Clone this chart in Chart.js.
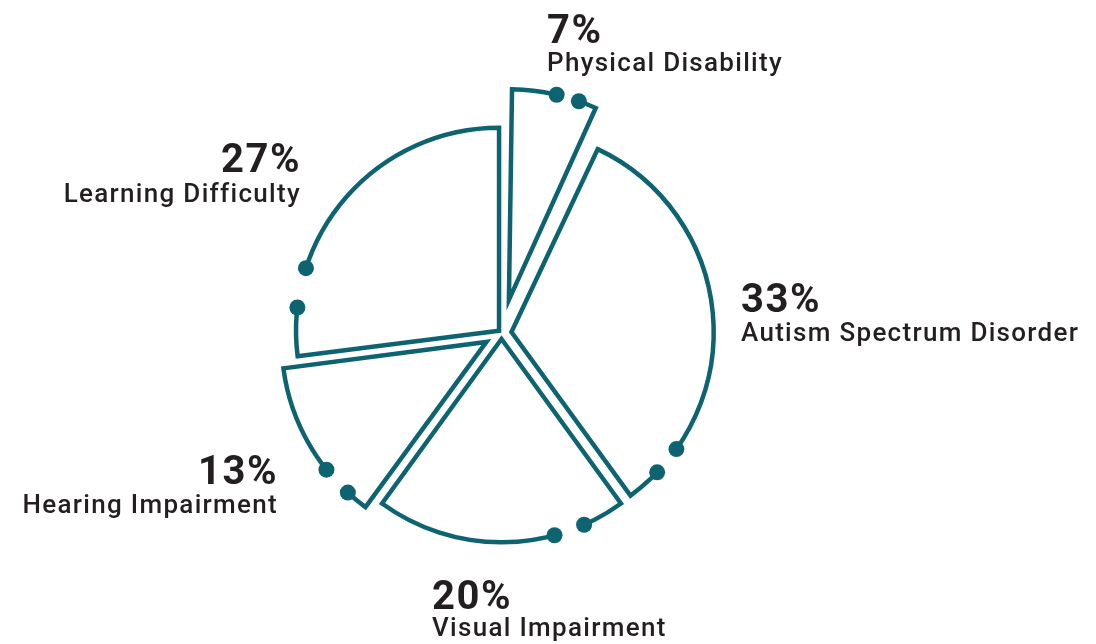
<!DOCTYPE html>
<html>
<head>
<meta charset="utf-8">
<title>Disability types</title>
<script src="https://cdn.jsdelivr.net/npm/chart.js@4"></script>
<style>
  html, body { margin: 0; padding: 0; background: #fff; }
  #wrap { width: 1096px; height: 644px; }
</style>
</head>
<body>
<div id="wrap"><canvas id="pie_chart" width="1096" height="644"></canvas></div>
<script>
// data, clockwise from 12 o'clock
const categories = ['Physical Disability', 'Autism Spectrum Disorder', 'Visual Impairment', 'Hearing Impairment', 'Learning Difficulty'];
const shares = [7, 33, 20, 13, 27];

// look
const teal = '#0d6470';
const text_color = '#231f20';
const slice_offsets = [136, 40, 24, 70, 13];   // chart.js offset (px * 4)
const radius_fix = [-12, -2, 0, -3, 0];
const gap_fracs = [[0.52, 0.77], [0.843, 0.915], [0.167, 0.29], [0.141, 0.329], [0.142, 0.259]];
const label_spots = [
  { x: 547, align: 'left',  pct_y: 43,  name_y: 71 },
  { x: 741, align: 'left',  pct_y: 312, name_y: 341 },
  { x: 432, align: 'left',  pct_y: 609, name_y: 636 },
  { x: 278, align: 'right', pct_y: 484, name_y: 513 },
  { x: 301, align: 'right', pct_y: 172, name_y: 202 },
];

const arc_geom = (arc) => {
  const t = (arc.options.offset || 0) / 4;
  const mid = (arc.startAngle + arc.endAngle) / 2;
  const circ = arc.endAngle - arc.startAngle;
  const r = arc.outerRadius + t * (1 - Math.sin(Math.min(Math.PI, circ)));
  return { x: arc.x + Math.cos(mid) * t, y: arc.y + Math.sin(mid) * t, r };
};

const fix_radius = {
  id: 'fix_radius',
  afterDatasetUpdate(chart, args) {
    args.meta.data.forEach((arc, i) => { arc.outerRadius += radius_fix[i]; });
  }
};

const gaps_and_dots = {
  id: 'gaps_and_dots',
  afterDatasetsDraw(chart) {
    const ctx = chart.ctx;
    chart.getDatasetMeta(0).data.forEach((arc, i) => {
      const g = arc_geom(arc);
      const circ = arc.endAngle - arc.startAngle;
      const a1 = arc.startAngle + gap_fracs[i][0] * circ;
      const a2 = arc.startAngle + gap_fracs[i][1] * circ;
      ctx.save();
      ctx.strokeStyle = '#fff';
      ctx.lineWidth = 9;
      ctx.beginPath();
      ctx.arc(g.x, g.y, g.r, a1, a2);
      ctx.stroke();
      ctx.fillStyle = teal;
      [a1, a2].forEach(a => {
        ctx.beginPath();
        ctx.arc(g.x + Math.cos(a) * g.r, g.y + Math.sin(a) * g.r, 8, 0, Math.PI * 2);
        ctx.fill();
      });
      ctx.restore();
    });
  }
};

const labels_plugin = {
  id: 'labels_plugin',
  afterDraw(chart) {
    const ctx = chart.ctx;
    ctx.save();
    ctx.fillStyle = text_color;
    ctx.textBaseline = 'alphabetic';
    categories.forEach((name, i) => {
      const s = label_spots[i];
      ctx.textAlign = s.align;
      ctx.letterSpacing = '1.5px';
      ctx.font = 'bold 40px Roboto';
      ctx.fillText(shares[i] + '%', s.x, s.pct_y);
      ctx.letterSpacing = '1.3px';
      ctx.font = '500 26px Roboto';
      ctx.fillText(name, s.x, s.name_y);
    });
    ctx.restore();
  }
};

new Chart('pie_chart', {
  type: 'pie',
  data: {
    labels: categories,
    datasets: [{
      data: shares,
      backgroundColor: 'rgba(0,0,0,0)',
      borderColor: teal,
      borderWidth: 4.5,
      borderJoinStyle: 'miter',
      offset: slice_offsets,
      radius: 203,
    }]
  },
  options: {
    responsive: false,
    animation: false,
    events: [],
    layout: { padding: { left: 0, right: 93, top: 22, bottom: 0 } },
    plugins: {
      legend: { display: false },
      tooltip: { enabled: false },
    }
  },
  plugins: [fix_radius, gaps_and_dots, labels_plugin]
});
</script>
</body>
</html>
